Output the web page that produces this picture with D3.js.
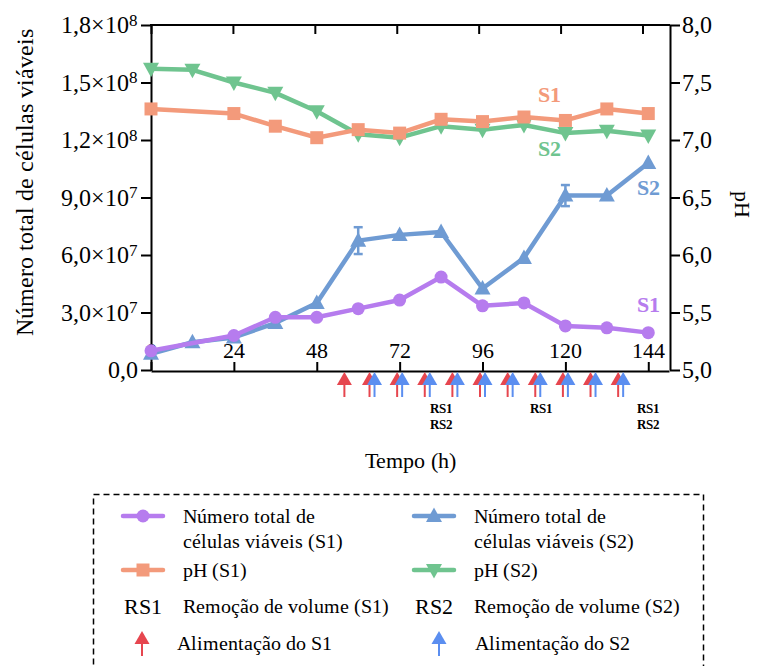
<!DOCTYPE html>
<html>
<head>
<meta charset="utf-8">
<script src="https://cdn.jsdelivr.net/npm/d3@7"></script>
<style>
  @font-face {
    font-family: "ChartSerif";
    font-weight: 400;
    src: local("Liberation Serif"), local("LiberationSerif"), local("LiberationSerif-Regular"),
         local("Liberation Serif Regular"), local("Tinos"), local("Tinos-Regular"),
         local("Times New Roman"), local("DejaVu Serif"), local("DejaVuSerif"), local("Noto Serif");
  }
  @font-face {
    font-family: "ChartSerif";
    font-weight: 700;
    src: local("Liberation Serif Bold"), local("LiberationSerif-Bold"), local("Tinos Bold"),
         local("Tinos-Bold"), local("Times New Roman Bold"), local("DejaVu Serif Bold"),
         local("DejaVuSerif-Bold"), local("Noto Serif Bold");
  }
  body { margin: 0; background: #fff; }
  svg { display: block; }
  svg text { font-family: "ChartSerif", "Liberation Serif", "DejaVu Serif", serif; }
</style>
</head>
<body>
<svg id="chart" width="757" height="666"></svg>
<script>
// Sampling times (h)
const timesS1 = [0, 24, 36, 48, 60, 72, 84, 96, 108, 120, 132, 144];
const timesS2 = [0, 12, 24, 36, 48, 60, 72, 84, 96, 108, 120, 132, 144];

// Total viable cells
const cellsS1 = [1.0e7, 1.8e7, 2.75e7, 2.75e7, 3.2e7, 3.65e7, 4.85e7, 3.35e7, 3.5e7, 2.3e7, 2.2e7, 1.95e7];
const cellsS2 = [0.85e7, 1.45e7, 1.7e7, 2.45e7, 3.5e7, 6.75e7, 7.05e7, 7.2e7, 4.25e7, 5.85e7, 9.1e7, 9.1e7, 10.8e7];
const cellsS2Err = [0, 0, 0, 0, 0, 0.7e7, 0, 0, 0, 0, 0.55e7, 0, 0];

// pH
const phS1 = [7.27, 7.23, 7.12, 7.02, 7.09, 7.06, 7.18, 7.16, 7.20, 7.17, 7.27, 7.23];
const phS2 = [7.62, 7.61, 7.50, 7.41, 7.25, 7.05, 7.02, 7.12, 7.09, 7.13, 7.06, 7.08, 7.04];

// Feeding and volume-removal events (h)
const feedS1 = [56, 64, 72, 80, 88, 96, 104, 112, 120, 128, 136];
const feedS2 = [64, 72, 80, 88, 96, 104, 112, 120, 128, 136];
const removalS1 = [84, 113, 144];
const removalS2 = [84, 144];

// Axis ticks
const timeTicks = [0, 24, 48, 72, 96, 120, 144];
const cellTicks = [0, 3e7, 6e7, 9e7, 1.2e8, 1.5e8, 1.8e8];
const phTicks = [5.0, 5.5, 6.0, 6.5, 7.0, 7.5, 8.0];

const colors = {
  cellsS1: "#b67cee",
  cellsS2: "#6f9bd3",
  phS1: "#f39a7b",
  phS2: "#6fc48f",
  feedS1: "#e6464f",
  feedS2: "#5b8ef0"
};

const FONT = '"ChartSerif", "Liberation Serif", "DejaVu Serif", serif';

const svg = d3.select("#chart");

const x = d3.scaleLinear().domain([0, 150]).range([151, 669]);
const xTop = d3.scaleLinear().domain([0, 144]).range([151, 642.5]);
const yCells = d3.scaleLinear().domain([0, 1.8e8]).range([370, 25]);
const yPH = d3.scaleLinear().domain([5, 8]).range([370, 25]);

const comma = s => s.replace(".", ",");

// ---- Axes ----
function styleAxis(g) {
  g.attr("font-family", FONT);
  g.selectAll("path.domain").attr("stroke", "#000").attr("stroke-width", 2);
  g.selectAll(".tick line").attr("stroke", "#000").attr("stroke-width", 2);
}

// bottom axis: ticks and labels point into the plot
const gx = svg.append("g").attr("transform", "translate(0,371)")
  .call(d3.axisTop(x).tickValues(timeTicks).tickSize(9).tickSizeOuter(0).tickPadding(4).tickFormat(d3.format("d")));
gx.call(styleAxis);
gx.selectAll(".tick text").attr("font-size", 22);

// top frame with mirrored ticks
svg.append("line").attr("x1", 150).attr("x2", 670).attr("y1", 25).attr("y2", 25)
  .attr("stroke", "#000").attr("stroke-width", 2);
const gt = svg.append("g").attr("transform", "translate(0,25)")
  .call(d3.axisBottom(xTop).tickValues(timeTicks).tickSize(9).tickSizeOuter(0).tickFormat(""));
gt.call(styleAxis);
gt.select("path.domain").remove();

// left axis (cells)
const gy = svg.append("g").attr("transform", "translate(151,0)")
  .call(d3.axisLeft(yCells).tickValues(cellTicks).tickSize(10).tickSizeOuter(0).tickPadding(3).tickFormat(""));
gy.call(styleAxis);
gy.selectAll(".tick text").each(function(d) {
  const t = d3.select(this).attr("font-size", 24);
  if (d === 0) { t.text("0,0"); return; }
  const e = Math.floor(Math.log10(d));
  const m = d / Math.pow(10, e);
  t.append("tspan").text(comma(m.toFixed(1)) + "\u00d710");
  t.append("tspan").attr("font-size", 17).attr("dy", "-0.45em").text(e);
});

// right axis (pH)
const gr = svg.append("g").attr("transform", "translate(670,0)")
  .call(d3.axisRight(yPH).tickValues(phTicks).tickSize(10).tickSizeOuter(0).tickPadding(2)
    .tickFormat(d => comma(d.toFixed(1))));
gr.call(styleAxis);
gr.selectAll(".tick text").attr("font-size", 24);

// axis titles
svg.append("text").attr("transform", "translate(33,182) rotate(-90)")
  .attr("text-anchor", "middle").attr("font-size", 24)
  .text("Número total de células viáveis");
svg.append("text").attr("transform", "translate(735,204) rotate(90)")
  .attr("text-anchor", "middle").attr("font-size", 22)
  .text("pH");
svg.append("text").attr("x", 410).attr("y", 468)
  .attr("text-anchor", "middle").attr("font-size", 22)
  .text("Tempo (h)");

// ---- Marker shapes ----
const markerPath = {
  circle: "M0,-6.5A6.5,6.5 0 1,1 0,6.5A6.5,6.5 0 1,1 0,-6.5Z",
  square: "M-6.5,-6.5H6.5V6.5H-6.5Z",
  up: "M0,-8.5L8,6L-8,6Z",
  down: "M0,8.5L8,-6L-8,-6Z"
};

function series(times, values, yScale, color, shape) {
  const pts = times.map((t, i) => [x(t), yScale(values[i])]);
  const g = svg.append("g");
  g.append("path").attr("d", d3.line()(pts))
    .attr("fill", "none").attr("stroke", color).attr("stroke-width", 4.5)
    .attr("stroke-linejoin", "round");
  g.selectAll("path.m").data(pts).join("path").attr("class", "m")
    .attr("transform", p => `translate(${p[0]},${p[1]})`)
    .attr("d", markerPath[shape]).attr("fill", color);
  return g;
}

series(timesS2, phS2, yPH, colors.phS2, "down");
series(timesS1, phS1, yPH, colors.phS1, "square");

// error bars for S2 cells
const errG = svg.append("g");
timesS2.forEach((t, i) => {
  const e = cellsS2Err[i];
  if (!e) return;
  const cx = x(t), y1 = yCells(cellsS2[i] + e), y0 = yCells(cellsS2[i] - e);
  errG.append("line").attr("x1", cx).attr("x2", cx).attr("y1", y1).attr("y2", y0)
    .attr("stroke", colors.cellsS2).attr("stroke-width", 2.5);
  [y1, y0].forEach(yy => errG.append("line").attr("x1", cx - 4.5).attr("x2", cx + 4.5)
    .attr("y1", yy).attr("y2", yy).attr("stroke", colors.cellsS2).attr("stroke-width", 2.5));
});
series(timesS2, cellsS2, yCells, colors.cellsS2, "up");
series(timesS1, cellsS1, yCells, colors.cellsS1, "circle");

// series tags
const tag = (tx, ty, txt, color) => svg.append("text").attr("x", tx).attr("y", ty)
  .attr("text-anchor", "middle").attr("dominant-baseline", "central")
  .attr("font-size", 22).attr("font-weight", "bold").attr("fill", color).text(txt);
tag(x(115.5), yPH(7.4), "S1", colors.phS1);
tag(x(115.5), yPH(6.93), "S2", colors.phS2);
tag(x(144), yCells(9.5e7), "S2", colors.cellsS2);
tag(x(144), yCells(3.4e7), "S1", colors.cellsS1);

// ---- Feeding arrows below the time axis ----
function arrow(g, cx, top, color) {
  g.append("path").attr("d", `M${cx},${top}L${cx + 7.5},${top + 13}L${cx - 7.5},${top + 13}Z`).attr("fill", color);
  g.append("line").attr("x1", cx).attr("x2", cx).attr("y1", top + 12).attr("y2", top + 25)
    .attr("stroke", color).attr("stroke-width", 2);
}
const arrG = svg.append("g");
feedS1.forEach(t => {
  const both = feedS2.includes(t);
  arrow(arrG, x(t) - (both ? 2.5 : 0), 372, colors.feedS1);
});
feedS2.forEach(t => arrow(arrG, x(t) + 2.5, 372, colors.feedS2));

// volume-removal labels
const rmTimes = Array.from(new Set([...removalS1, ...removalS2])).sort((a, b) => a - b);
rmTimes.forEach(t => {
  const lines = [];
  if (removalS1.includes(t)) lines.push("RS1");
  if (removalS2.includes(t)) lines.push("RS2");
  lines.forEach((s, k) => svg.append("text").attr("x", x(t)).attr("y", 413 + k * 16)
    .attr("text-anchor", "middle").attr("font-size", 13).attr("font-weight", "bold").text(s));
});

// ---- Legend ----
const lg = svg.append("g");
lg.append("rect").attr("x", 93.5).attr("y", 494.5).attr("width", 610).attr("height", 200)
  .attr("fill", "none").attr("stroke", "#000").attr("stroke-width", 1.5).attr("stroke-dasharray", "6,4");

const legendSeries = [
  { col: 0, y: 516, color: colors.cellsS1, shape: "circle", text: ["Número total de", "células viáveis (S1)"] },
  { col: 1, y: 516, color: colors.cellsS2, shape: "up", text: ["Número total de", "células viáveis (S2)"] },
  { col: 0, y: 570, color: colors.phS1, shape: "square", text: ["pH (S1)"] },
  { col: 1, y: 570, color: colors.phS2, shape: "down", text: ["pH (S2)"] }
];
const colX = [{ sym: 143, txt: 183 }, { sym: 434, txt: 474 }];
legendSeries.forEach(d => {
  const c = colX[d.col];
  lg.append("line").attr("x1", c.sym - 20).attr("x2", c.sym + 20).attr("y1", d.y).attr("y2", d.y)
    .attr("stroke", d.color).attr("stroke-width", 4.5).attr("stroke-linecap", "round");
  lg.append("path").attr("transform", `translate(${c.sym},${d.y})`).attr("d", markerPath[d.shape]).attr("fill", d.color);
  d.text.forEach((s, k) => lg.append("text").attr("x", c.txt).attr("y", d.y + k * 25)
    .attr("dominant-baseline", "central").attr("font-size", 20).text(s));
});
const legendRemoval = [
  { col: 0, code: "RS1", text: "Remoção de volume (S1)" },
  { col: 1, code: "RS2", text: "Remoção de volume (S2)" }
];
legendRemoval.forEach(d => {
  const c = colX[d.col];
  lg.append("text").attr("x", c.sym).attr("y", 606).attr("text-anchor", "middle")
    .attr("dominant-baseline", "central").attr("font-size", 22).text(d.code);
  lg.append("text").attr("x", c.txt).attr("y", 606).attr("dominant-baseline", "central")
    .attr("font-size", 20).text(d.text);
});
const legendFeed = [
  { col: 0, color: colors.feedS1, text: "Alimentação do S1" },
  { col: 1, color: colors.feedS2, text: "Alimentação do S2" }
];
legendFeed.forEach(d => {
  const c = colX[d.col];
  const ax = d.col === 0 ? 142 : 439;
  arrow(lg, ax, 631, d.color);
  lg.append("text").attr("x", c.txt - (d.col === 0 ? 6 : -1)).attr("y", 643).attr("dominant-baseline", "central")
    .attr("font-size", 20).text(d.text);
});
</script>
</body>
</html>
